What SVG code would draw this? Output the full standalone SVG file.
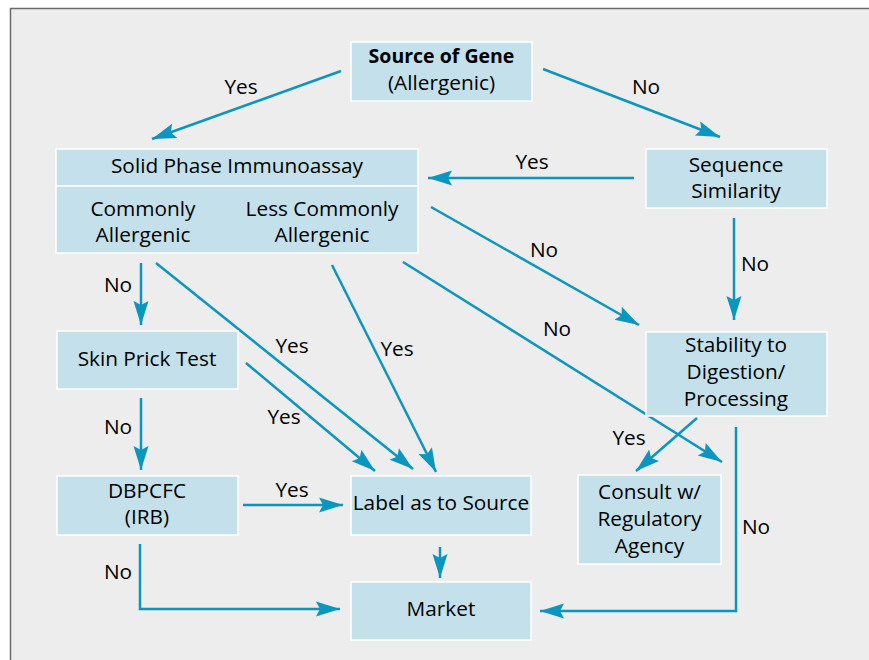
<svg xmlns="http://www.w3.org/2000/svg" width="869" height="660" viewBox="0 0 869 660">
<defs>
<marker id="ah" markerUnits="userSpaceOnUse" markerWidth="30" markerHeight="20" refX="24" refY="8" orient="auto" viewBox="0 0 30 16">
<path d="M24,8 L0,0.5 L4,8 L0,15.5 Z" fill="#0b96c0"/>
</marker>
<style>
.box{fill:#c4e0eb;stroke:#ffffff;stroke-width:1.5}
.t{font-family:"Open Sans","Noto Sans","Liberation Sans",sans-serif;font-size:20.8px;fill:#000;text-anchor:middle}
.b{font-weight:bold;font-size:19.5px}
.c{fill:none;stroke:#0b96c0;stroke-width:2.5;marker-end:url(#ah)}
.l{font-family:"Open Sans","Noto Sans","Liberation Sans",sans-serif;font-size:20.8px;fill:#000;text-anchor:middle}
</style>
</defs>
<rect x="0" y="0" width="869" height="660" fill="#ffffff"/>
<rect x="10.5" y="8.5" width="870" height="670" fill="#ededed" stroke="#6b6b6b" stroke-width="1.5"/>

<g id="connectors">
<line class="c" x1="341" y1="71" x2="152" y2="139"/>
<line class="c" x1="543" y1="69" x2="720" y2="137"/>
<line class="c" x1="634" y1="178" x2="428" y2="178"/>
<line class="c" x1="734" y1="218" x2="734" y2="320"/>
<line class="c" x1="431" y1="207" x2="639" y2="325"/>
<line class="c" x1="403" y1="262" x2="722" y2="462"/>
<line class="c" x1="141" y1="263" x2="141" y2="325"/>
<line class="c" x1="156" y1="263" x2="413" y2="469"/>
<line class="c" x1="332" y1="265" x2="436" y2="472"/>
<line class="c" x1="246" y1="363" x2="375" y2="471"/>
<line class="c" x1="141" y1="398" x2="141" y2="470"/>
<line class="c" x1="243" y1="505" x2="343" y2="505"/>
<polyline class="c" points="140,544 140,609 340,609"/>
<line class="c" x1="440" y1="547" x2="440" y2="578"/>
<line class="c" x1="697" y1="418" x2="636" y2="471"/>
<polyline class="c" points="736,427 736,611 540,611"/>
<text class="l" x="241" y="94">Yes</text>
<text class="l" x="646" y="94">No</text>
<text class="l" x="532" y="169">Yes</text>
<text class="l" x="755" y="271">No</text>
<text class="l" x="544" y="257">No</text>
<text class="l" x="557" y="336">No</text>
<text class="l" x="118" y="292">No</text>
<text class="l" x="292" y="353">Yes</text>
<text class="l" x="397" y="356">Yes</text>
<text class="l" x="284" y="424">Yes</text>
<text class="l" x="118" y="434">No</text>
<text class="l" x="292" y="497">Yes</text>
<text class="l" x="118" y="579">No</text>
<text class="l" x="629" y="445">Yes</text>
<text class="l" x="756" y="534">No</text>
</g>

<g id="source">
<rect class="box" x="351" y="42" width="181" height="59"/>
<text class="t b" x="441.5" y="63">Source of Gene</text>
<text class="t" x="441.5" y="90">(Allergenic)</text>
</g>
<g id="immunoassay">
<rect class="box" x="56" y="149" width="362" height="37"/>
<rect class="box" x="56" y="186" width="362" height="67"/>
<text class="t" x="237" y="173">Solid Phase Immunoassay</text>
<text class="t" x="143" y="216">Commonly</text>
<text class="t" x="143" y="242">Allergenic</text>
<text class="t" x="322" y="216">Less Commonly</text>
<text class="t" x="322" y="242">Allergenic</text>
</g>
<g id="sequence">
<rect class="box" x="646" y="149" width="181" height="59"/>
<text class="t" x="736" y="172">Sequence</text>
<text class="t" x="736" y="198">Similarity</text>
</g>
<g id="stability">
<rect class="box" x="646" y="332" width="181" height="84"/>
<text class="t" x="736" y="352">Stability to</text>
<text class="t" x="736" y="379">Digestion/</text>
<text class="t" x="736" y="406">Processing</text>
</g>
<g id="consult">
<rect class="box" x="578" y="475" width="143" height="89"/>
<text class="t" x="649.5" y="499">Consult w/</text>
<text class="t" x="649.5" y="526">Regulatory</text>
<text class="t" x="649.5" y="553">Agency</text>
</g>
<g id="skinprick">
<rect class="box" x="57" y="331" width="181" height="58"/>
<text class="t" x="147" y="366">Skin Prick Test</text>
</g>
<g id="dbpcfc">
<rect class="box" x="57" y="476" width="181" height="59"/>
<text class="t" x="147" y="498">DBPCFC</text>
<text class="t" x="147" y="524">(IRB)</text>
</g>
<g id="label">
<rect class="box" x="351" y="476" width="180" height="59"/>
<text class="t" x="441" y="510">Label as to Source</text>
</g>
<g id="market">
<rect class="box" x="351" y="582" width="180" height="58"/>
<text class="t" x="441" y="616">Market</text>
</g>
</svg>
